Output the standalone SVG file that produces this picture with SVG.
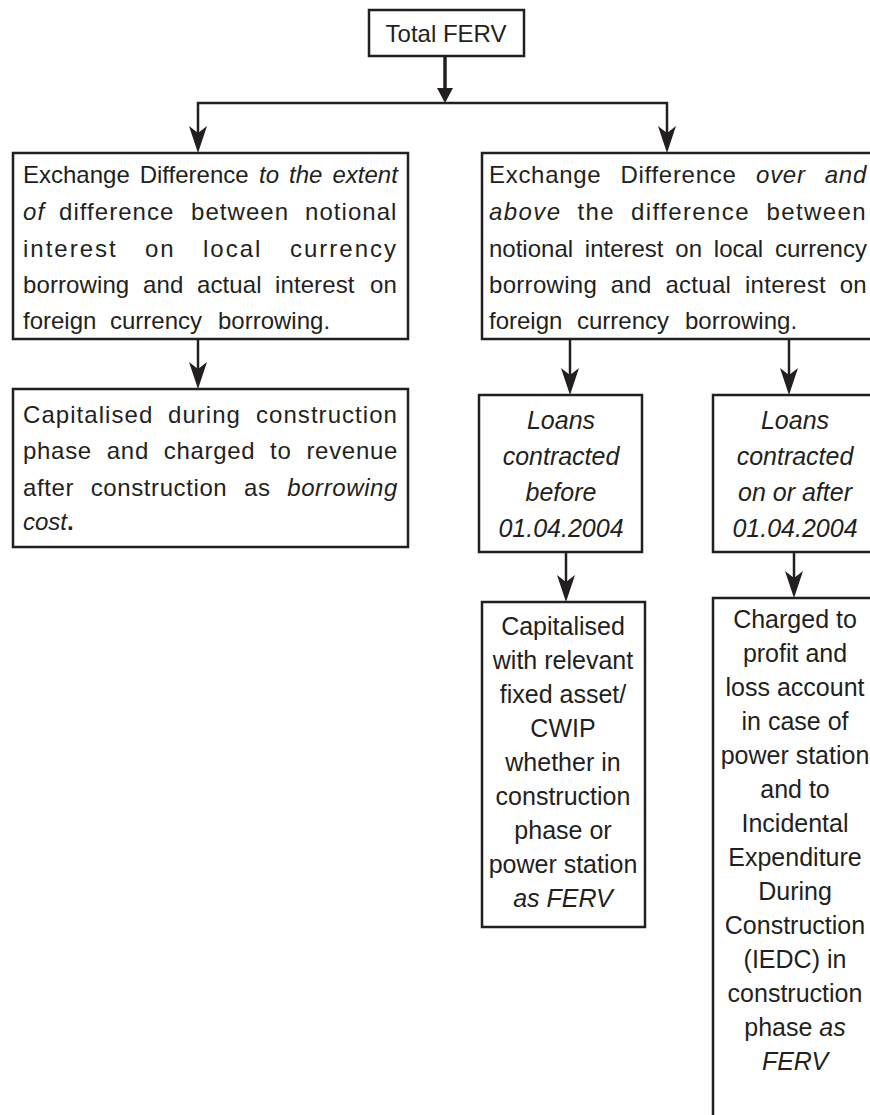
<svg xmlns="http://www.w3.org/2000/svg" width="870" height="1115" viewBox="0 0 870 1115">
<style>
text{font-family:"Liberation Sans",Arial,Helvetica,sans-serif;font-size:24px;fill:#231f20}
.s{font-size:25px;text-anchor:middle}
.i{font-style:italic}
.b{font-weight:bold}
.box{fill:#fff;stroke:#231f20;stroke-width:2.5}
.con{fill:none;stroke:#231f20;stroke-width:2.5;stroke-linejoin:miter}
.main{stroke-width:3.5}
</style>
<defs>
<marker id="st" markerUnits="userSpaceOnUse" markerWidth="40" markerHeight="24" viewBox="-30 -12 40 24" refX="-12" refY="0" orient="auto" overflow="visible">
<path d="M0,0 L-27,-9 L-20,0 L-27,9 Z" fill="#231f20"/>
</marker>
<marker id="tr" markerUnits="userSpaceOnUse" markerWidth="24" markerHeight="20" viewBox="-18 -10 24 20" refX="-8" refY="0" orient="auto" overflow="visible">
<path d="M0,0 L-15,-8 L-15,8 Z" fill="#231f20"/>
</marker>
</defs>

<g id="connectors">
<path class="con main" d="M445,56 V95" marker-end="url(#tr)"/>
<path class="con" d="M445,103 H198 V141" marker-end="url(#st)"/>
<path class="con" d="M445,103 H667 V141" marker-end="url(#st)"/>
<path class="con" d="M198,339 V377" marker-end="url(#st)"/>
<path class="con" d="M570,339 V383" marker-end="url(#st)"/>
<path class="con" d="M789,339 V383" marker-end="url(#st)"/>
<path class="con" d="M566,552 V590" marker-end="url(#st)"/>
<path class="con" d="M794,552 V586" marker-end="url(#st)"/>
</g>

<g id="total-ferv">
<rect class="box" x="369" y="10" width="155" height="46"/>
<text x="446" y="42" text-anchor="middle">Total FERV</text>
</g>

<g id="exchange-extent">
<rect class="box" x="13" y="153" width="395" height="186"/>
<text y="183"><tspan x="23">Exchange</tspan><tspan x="139.7">Difference</tspan><tspan class="i" x="259.1">to</tspan><tspan class="i" x="289.1">the</tspan><tspan class="i" x="332.5">extent</tspan></text>
<text y="220" letter-spacing="1.05"><tspan class="i" x="23">of</tspan><tspan x="59">difference</tspan><tspan x="191">between</tspan><tspan x="305">notional</tspan></text>
<text y="257" letter-spacing="2"><tspan x="23">interest</tspan><tspan x="145">on</tspan><tspan x="203">local</tspan><tspan x="290">currency</tspan></text>
<text y="293" letter-spacing="0.1"><tspan x="23">borrowing</tspan><tspan x="143">and</tspan><tspan x="197">actual</tspan><tspan x="275">interest</tspan><tspan x="370">on</tspan></text>
<text y="329"><tspan x="23">foreign</tspan><tspan x="110">currency</tspan><tspan x="218">borrowing.</tspan></text>
</g>

<g id="capitalised-borrowing-cost">
<rect class="box" x="13" y="389" width="395" height="158"/>
<text y="423" letter-spacing="1.05"><tspan x="23">Capitalised</tspan><tspan x="168">during</tspan><tspan x="256">construction</tspan></text>
<text y="459" letter-spacing="0.7"><tspan x="23">phase</tspan><tspan x="106.8">and</tspan><tspan x="163.7">charged</tspan><tspan x="270.1">to</tspan><tspan x="306.4">revenue</tspan></text>
<text y="496" letter-spacing="0.6"><tspan x="23">after</tspan><tspan x="90.7">construction</tspan><tspan x="244">as</tspan><tspan class="i" x="287.2">borrowing</tspan></text>
<text y="530" x="23"><tspan class="i">cost</tspan><tspan class="b">.</tspan></text>
</g>

<g id="exchange-over-above">
<rect class="box" x="482" y="153" width="400" height="186"/>
<text y="183" letter-spacing="0.7"><tspan x="489">Exchange</tspan><tspan x="620.5">Difference</tspan><tspan class="i" x="756.1">over</tspan><tspan class="i" x="824.8">and</tspan></text>
<text y="220" letter-spacing="1.4"><tspan class="i" x="489">above</tspan><tspan x="577.4">the</tspan><tspan x="631">difference</tspan><tspan x="766.4">between</tspan></text>
<text y="257"><tspan x="489">notional</tspan><tspan x="584.8">interest</tspan><tspan x="675.3">on</tspan><tspan x="713.8">local</tspan><tspan x="774.9">currency</tspan></text>
<text y="293" letter-spacing="0.3"><tspan x="489">borrowing</tspan><tspan x="610.8">and</tspan><tspan x="665.4">actual</tspan><tspan x="744.9">interest</tspan><tspan x="839.7">on</tspan></text>
<text y="329"><tspan x="489">foreign</tspan><tspan x="577">currency</tspan><tspan x="685">borrowing.</tspan></text>
</g>

<g id="loans-before">
<rect class="box" x="479" y="395" width="163" height="157"/>
<text class="s i" x="561" y="429">Loans</text>
<text class="s i" x="561" y="465">contracted</text>
<text class="s i" x="561" y="501">before</text>
<text class="s i" x="561" y="537">01.04.2004</text>
</g>

<g id="loans-after">
<rect class="box" x="713" y="395" width="170" height="157"/>
<text class="s i" x="795" y="429">Loans</text>
<text class="s i" x="795" y="465">contracted</text>
<text class="s i" x="795" y="501">on or after</text>
<text class="s i" x="795" y="537">01.04.2004</text>
</g>

<g id="capitalised-fixed-asset">
<rect class="box" x="482" y="602" width="163" height="325"/>
<text class="s" x="563" y="635">Capitalised</text>
<text class="s" x="563" y="669">with relevant</text>
<text class="s" x="563" y="703">fixed asset/</text>
<text class="s" x="563" y="737">CWIP</text>
<text class="s" x="563" y="771">whether in</text>
<text class="s" x="563" y="805">construction</text>
<text class="s" x="563" y="839">phase or</text>
<text class="s" x="563" y="873">power station</text>
<text class="s i" x="563" y="907">as FERV</text>
</g>

<g id="charged-profit-loss">
<rect class="box" x="713" y="598" width="170" height="530"/>
<text class="s" x="795" y="628">Charged to</text>
<text class="s" x="795" y="662">profit and</text>
<text class="s" x="795" y="696">loss account</text>
<text class="s" x="795" y="730">in case of</text>
<text class="s" x="795" y="764">power station</text>
<text class="s" x="795" y="798">and to</text>
<text class="s" x="795" y="832">Incidental</text>
<text class="s" x="795" y="866">Expenditure</text>
<text class="s" x="795" y="900">During</text>
<text class="s" x="795" y="934">Construction</text>
<text class="s" x="795" y="968">(IEDC) in</text>
<text class="s" x="795" y="1002">construction</text>
<text class="s" x="795" y="1036">phase <tspan class="i">as</tspan></text>
<text class="s i" x="795" y="1070">FERV</text>
</g>
</svg>
